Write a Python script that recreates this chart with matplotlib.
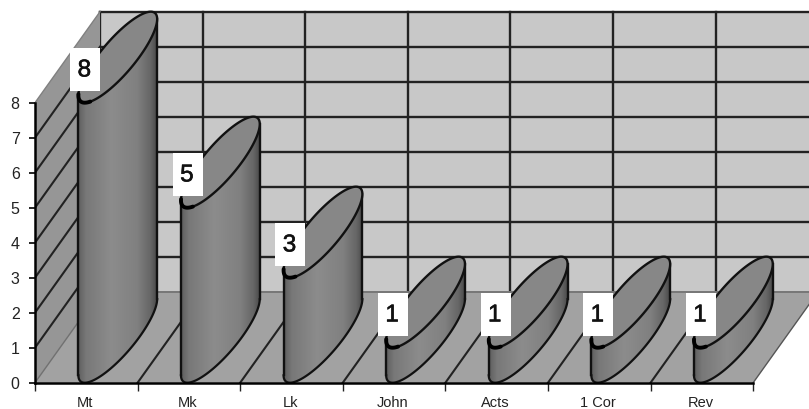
import numpy as np
import matplotlib
matplotlib.use('Agg')
import matplotlib.pyplot as plt
import matplotlib.patheffects as pe
from matplotlib.colors import LinearSegmentedColormap
from matplotlib.patches import Polygon, Rectangle

categorias = ['Mt', 'Mk', 'Lk', 'John', 'Acts', '1 Cor', 'Rev']
valores = [8, 5, 3, 1, 1, 1, 1]
y_ticks = [0, 1, 2, 3, 4, 5, 6, 7, 8]

plt.rcParams['font.family'] = ['Liberation Sans', 'DejaVu Sans']

W, H = 809, 409
x0_px, y0_px = 35, 382.7
px_x, px_y = 102.6, 35.0   # pixels per category / per unit
n = len(categorias)
y_max = y_ticks[-1]

# deslocamento da profundidade (obliqua) em unidades dos dados
dx = 65 / px_x
dy = 91 / px_y

fig = plt.figure(figsize=(W / 100, H / 100), dpi=100)
ax = fig.add_axes([x0_px / W, (H - y0_px) / H, (W - x0_px) / W, y0_px / H])
ax.set_xlim(0, (W - x0_px) / px_x)
ax.set_ylim(0, y0_px / px_y)

# parede de fundo, parede esquerda e chao
ax.add_patch(Polygon([(dx, dy), (n + dx, dy), (n + dx, y_max + dy), (dx, y_max + dy)],
                     fc='#c8c8c8', ec='none', zorder=1))
ax.add_patch(Polygon([(0, 0), (dx, dy), (dx, y_max + dy), (0, y_max)],
                     fc='#969696', ec='none', zorder=1.5))
ax.add_patch(Polygon([(0, 0), (n, 0), (n + dx, dy), (dx, dy)],
                     fc='#a2a2a2', ec='none', zorder=1.5))

# grades
for v in y_ticks[1:]:
    ax.plot([dx, n + dx], [v + dy, v + dy], color='#222222', lw=1.7, zorder=1.2)
    if v < y_max:
        ax.plot([0, dx], [v, v + dy], color='#222222', lw=1.5, zorder=2)
for i in range(0, n):
    ax.plot([i + dx, i + dx], [dy, y_max + dy], color='#222222', lw=1.7, zorder=1.2)
    if i > 0:
        ax.plot([i, i + dx], [0, dy], color='#222222', lw=1.5, zorder=2)
ax.plot([dx, n + dx], [dy, dy], color='#777777', lw=1.4, zorder=2)
ax.plot([0, dx], [0, dy], color='#707070', lw=1, zorder=2)
ax.plot([0, dx], [y_max, y_max + dy], color='#808080', lw=1, zorder=2)
ax.plot([n, n + dx], [0, dy], color='#555555', lw=1, zorder=2)

# cilindros
cinza = LinearSegmentedColormap.from_list('cil', [
    (0.0, '#5e5e5e'), (0.1, '#787878'), (0.42, '#8c8c8c'),
    (0.75, '#808080'), (0.92, '#666666'), (1.0, '#4a4a4a')])
grad = np.linspace(0, 1, 256).reshape(1, -1)

a_x = 33 / px_x     # semi-eixo obliquo
rx = 21.5 / px_x
t_dir = np.arctan2(a_x, rx)
t_esq = t_dir + np.pi


def elipse(cx, v, t):
    return (cx + rx * np.cos(t) + a_x * np.sin(t),
            v + dy / 2 + dy / 2 * np.sin(t))


for i, v in enumerate(valores):
    cx = i + 0.49 + dx / 2
    z = 3 + i
    t_frente = np.linspace(t_esq, t_dir + 2 * np.pi, 80)
    bx, by = elipse(cx, 0, t_frente)
    tx, ty = elipse(cx, v, t_frente)
    corpo = np.column_stack([np.r_[bx, tx[::-1]], np.r_[by, ty[::-1]]])
    patch = Polygon(corpo, fc='none', ec='none', zorder=z)
    ax.add_patch(patch)
    img = ax.imshow(grad, cmap=cinza, vmin=0, vmax=1, aspect='auto', zorder=z,
                    extent=[bx.min(), bx.max(), 0, v + dy], interpolation='bilinear')
    img.set_clip_path(patch)

    ax.plot(bx, by, color='#111111', lw=1.6, zorder=z + 0.1)
    ax.plot([bx[0], bx[0]], [by[0], ty[0]], color='#111111', lw=1.7, zorder=z + 0.1)
    ax.plot([bx[-1], bx[-1]], [by[-1], ty[-1]], color='#111111', lw=1.7, zorder=z + 0.1)

    # tampa
    t_all = np.linspace(0, 2 * np.pi, 160)
    ex, ey = elipse(cx, v, t_all)
    ax.add_patch(Polygon(np.column_stack([ex, ey]), fc='#878787', ec='#111111',
                         lw=1.7, zorder=z + 0.2))
    # parte mais grossa embaixo a esquerda
    t_gross = np.linspace(t_esq - 0.05, t_esq + 0.8, 30)
    gx, gy = elipse(cx, v, t_gross)
    ax.plot(gx, gy, color='#000000', lw=2.8, zorder=z + 0.3, solid_capstyle='round')

    # rotulo branco
    lx, ly = i + 0.49, v + 0.95
    ax.add_patch(Rectangle((lx - 15 / px_x, ly - 21.5 / px_y), 30 / px_x, 43 / px_y,
                           fc='white', ec='none', zorder=20))
    txt = ax.text(lx - 1 / px_x, ly - 1 / px_y, str(v), ha='center', va='center',
                  fontsize=17.5, color='#111111', zorder=21)
    txt.set_path_effects([pe.withStroke(linewidth=0.4, foreground='#111111')])

# eixos
for s in ['top', 'right']:
    ax.spines[s].set_visible(False)
ax.spines['left'].set_bounds(0, y_max)
ax.spines['bottom'].set_bounds(0, n)
ax.spines['left'].set_linewidth(1.8)
ax.spines['bottom'].set_linewidth(1.8)
ax.spines['left'].set_zorder(30)
ax.spines['bottom'].set_zorder(30)
ax.set_yticks(y_ticks)
ax.set_yticklabels([str(t) for t in y_ticks], fontsize=11.5, color='#222222')
ax.tick_params(axis='y', length=4, width=1.2, pad=7)
ax.set_xticks(range(n + 1))
ax.set_xticklabels([])
ax.tick_params(axis='x', which='major', length=6, width=1, color='#222222')
ax.set_xticks([i + 0.49 for i in range(n)], minor=True)
ax.set_xticklabels(categorias, minor=True, fontsize=10.5, color='#222222')
ax.tick_params(axis='x', which='minor', length=0, pad=9.5)

fig.savefig('out.png', dpi=100)
plt.close(fig)
